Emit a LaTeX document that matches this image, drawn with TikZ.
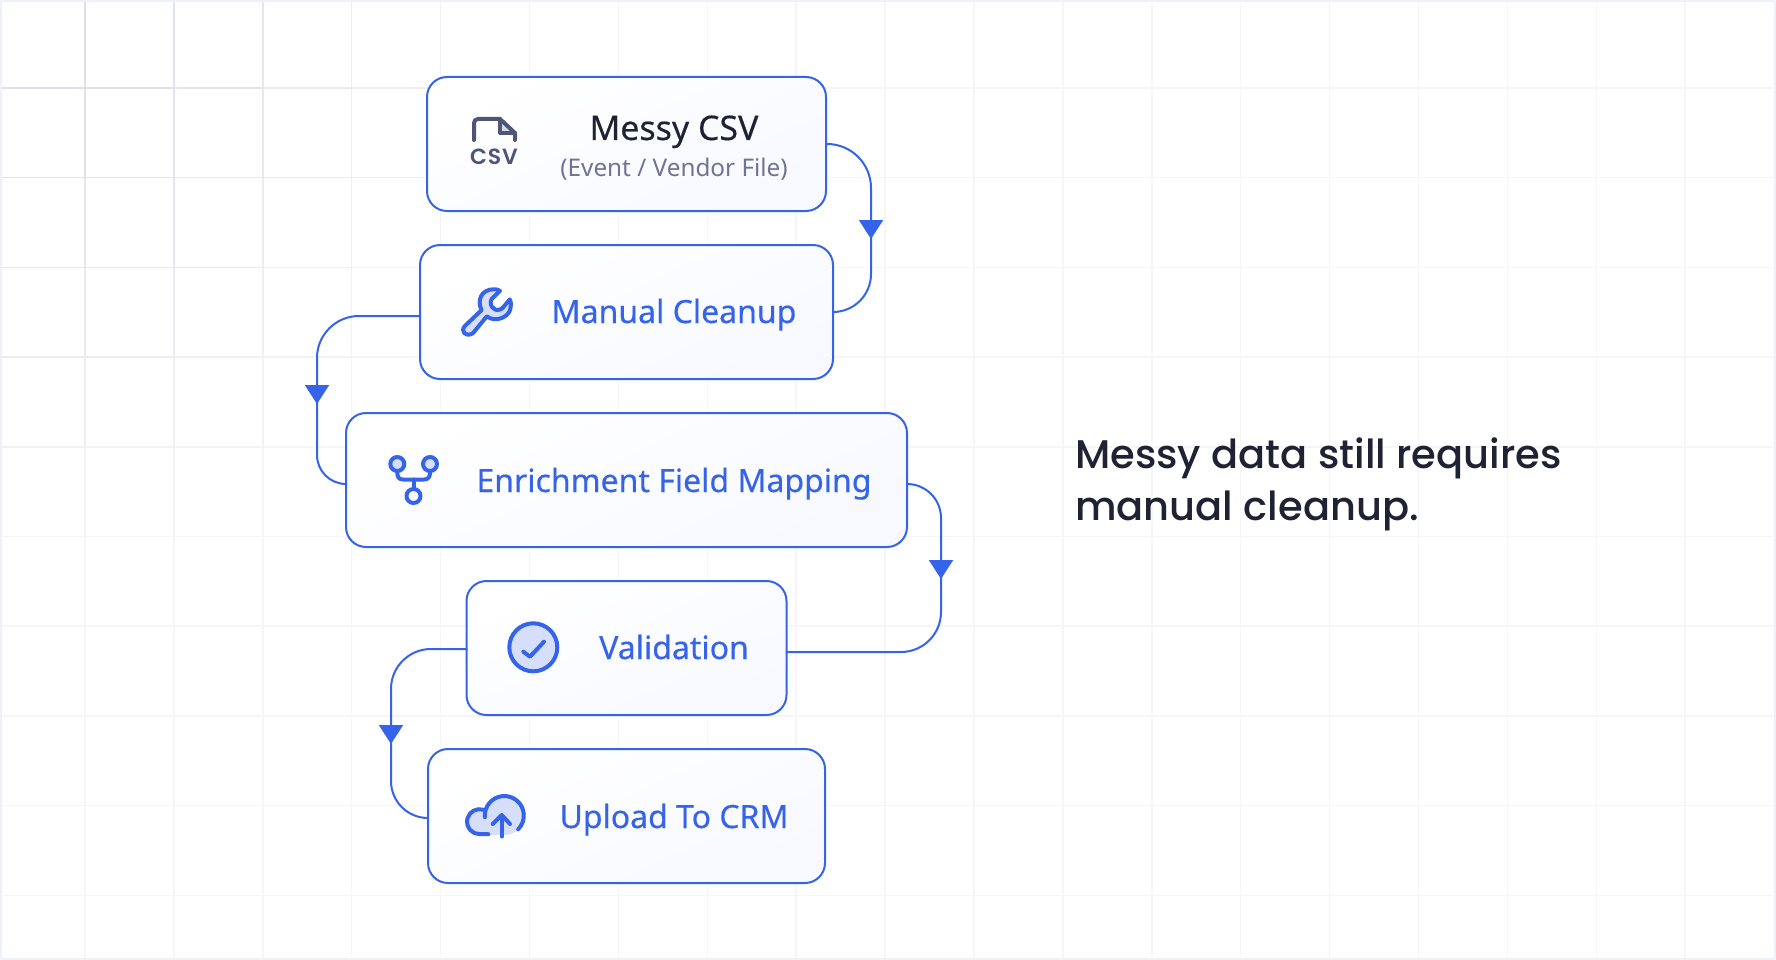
\documentclass[tikz,border=0pt]{standalone}
\usepackage{fontspec}
\usetikzlibrary{arrows.meta,calc}
\setmainfont[FakeBold=0.35]{Noto Sans}
\newfontfamily\notefont[UprightFont={* Medium}]{Poppins}
\newfontfamily\subfont{Noto Sans}
\newfontfamily\tagfont[UprightFont={* SemiBold},LetterSpace=4]{Poppins}
\definecolor{flowBlue}{HTML}{3563E9}
\definecolor{flowInk}{HTML}{1F2233}
\definecolor{flowSlate}{HTML}{4F5578}
\definecolor{flowMuted}{HTML}{6E7492}
\definecolor{flowTint}{HTML}{D5DEFA}
\definecolor{flowCard}{HTML}{F7F9FF}
\definecolor{flowGrid}{HTML}{CFCEDE}
\definecolor{flowEdge}{HTML}{EEF1F8}
\tikzset{
 board/.style={x=1pt,y=-1pt,line cap=round,line join=round},
 card/.style={rectangle,draw=flowBlue,line width=2pt,rounded corners=20pt,minimum height=134pt,outer sep=0pt,
   top color=white,bottom color=flowCard,shading angle=25},
 cardlabel/.style={font=\fontsize{32}{36}\selectfont,text=flowBlue,inner sep=0pt,anchor=base},
 link/.style={draw=flowBlue,line width=2pt},
 linktip/.style={link,-{Triangle[length=19pt,width=24pt]}},
 glyph/.style={draw=flowBlue,line width=4pt},
 glyphfill/.style={glyph,fill=flowTint}
}
\begin{document}
\begin{tikzpicture}[board]
 \useasboundingbox (0,0) rectangle (1776,960);
 \path[fill=white] (0,0) rectangle (1776,960);
 % grid, fading away from the top left corner
 \foreach \i in {0,...,18}{
  \foreach \j in {0,...,10}{
   \pgfmathsetmacro{\gx}{85+88.9*\i}
   \pgfmathsetmacro{\gy}{\j*89.7-1.7}
   \pgfmathsetmacro{\mix}{max(18,80-veclen(\gx,\gy+45)/9)}
   \draw[flowGrid!\mix!white,line width=1.5pt,line cap=butt] (\gx,\gy) -- (\gx,\gy+89.7);
  }
 }
 \foreach \j in {1,...,10}{
  \foreach \i in {0,...,19}{
   \pgfmathsetmacro{\gx}{\i*88.9-3.9}
   \pgfmathsetmacro{\gy}{\j*89.7-1.7}
   \pgfmathsetmacro{\mix}{max(18,80-veclen(\gx+44,\gy)/9)}
   \draw[flowGrid!\mix!white,line width=1.5pt,line cap=butt] (\gx,\gy) -- (\gx+88.9,\gy);
  }
 }
 \draw[flowEdge,line width=2pt] (1,1) rectangle (1775,959);

 \node[card,minimum width=399pt] (csv) at (626.5,144) {};
 \node[card,minimum width=413pt] (cleanup) at (626.5,312) {};
 \node[card,minimum width=561pt] (mapping) at (626.5,480) {};
 \node[card,minimum width=320pt] (validation) at (626.5,648) {};
 \node[card,minimum width=397pt] (upload) at (626.5,816) {};

 \coordinate (laneA) at (871,200);
 \coordinate (tipA) at (871,239);
 \coordinate (laneB) at (317,360);
 \coordinate (tipB) at (317,404);
 \coordinate (laneC) at (941,530);
 \coordinate (tipC) at (941,579);
 \coordinate (laneD) at (391,700);
 \coordinate (tipD) at (391,744);

 \draw[link] (csv.east) [rounded corners=44pt] -- (csv.east -| laneA) [rounded corners=38pt] -- (cleanup.east -| laneA) [sharp corners] -- (cleanup.east);
 \draw[linktip] (laneA) -- (tipA);
 \draw[link] ([yshift=-4pt]cleanup.west) [rounded corners=42pt] -- ($(cleanup.west -| laneB)+(0,4)$) [rounded corners=29pt] -- ($(mapping.west -| laneB)+(0,4)$) [sharp corners] -- ([yshift=-4pt]mapping.west);
 \draw[linktip] (laneB) -- (tipB);
 \draw[link] ([yshift=-4pt]mapping.east) [rounded corners=34pt] -- ($(mapping.east -| laneC)+(0,4)$) [rounded corners=40pt] -- ($(validation.east -| laneC)+(0,4)$) [sharp corners] -- ([yshift=-4pt]validation.east);
 \draw[linktip] (laneC) -- (tipC);
 \draw[link] ([yshift=-1pt]validation.west) [rounded corners=40pt] -- ($(validation.west -| laneD)+(0,1)$) [rounded corners=37pt] -- ($(upload.west -| laneD)+(0,2)$) [sharp corners] -- ([yshift=-2pt]upload.west);
 \draw[linktip] (laneD) -- (tipD);

 \node[cardlabel,font=\fontsize{33.9}{36}\selectfont,text=flowInk] (csvname) at (674,140) {Messy CSV};
 \node[cardlabel,font=\subfont\fontsize{24.3}{30}\selectfont,text=flowMuted] (csvnote) at (674,176) {(Event / Vendor File)};
 \node[cardlabel] (cleanupname) at (674,323) {Manual Cleanup};
 \node[cardlabel] (mappingname) at (674,492) {Enrichment Field Mapping};
 \node[cardlabel] (validationname) at (674,659) {Validation};
 \node[cardlabel] (uploadname) at (674,828) {Upload To CRM};

 \node[anchor=base west,inner sep=0pt,text=flowInk,font=\notefont\fontsize{40}{52}\selectfont,align=left] (message) at (1075,520)
  {Messy data still requires\\manual cleanup.};

 % file icon
 \fill[flowTint!70!gray!60!white] (501,120) -- (515,133) -- (501,133) -- cycle;
 \draw[flowSlate,line width=4pt] (474,140) -- (474,123) arc[start angle=180,end angle=270,radius=4] -- (500,119) -- (515,133) -- (515,140);
 \draw[flowSlate,line width=4pt] (500,119) -- (500,133) -- (515,133);
 \node[inner sep=0pt,text=flowSlate,font=\tagfont\fontsize{22}{26}\selectfont] (csvtag) at (494,156.5) {CSV};
 % wrench icon
 \begin{scope}[shift={(488,312)},scale=.92,shift={(-488,-312)}]
 \draw[glyphfill] (463.3,326.7) -- (481,310) .. controls (476,300) and (480,287) .. (495,287.3) .. controls (497,287) and (499,288) .. (501,289) -- (491.7,298.3) .. controls (490,302) and (491,306) .. (494,308) .. controls (497,311) and (501,310) .. (503.3,308.3) -- (511.7,298.3) .. controls (515,306) and (512,315) .. (503,318.5) .. controls (497,321) and (491,320) .. (486.7,316.7) -- (471.7,335) .. controls (464,340) and (457,333) .. (463.3,326.7) -- cycle;
 \end{scope}
 % branch icon
 \draw[glyph] (397.3,472) -- (397.3,473) .. controls (397.3,477) and (399,479.5) .. (403,479.5) -- (424,479.5) .. controls (428,479.5) and (430,477) .. (430,473) -- (430,472);
 \draw[glyph] (413.5,479.5) -- (413.5,488);
 \draw[glyphfill] (397.3,464) circle[radius=7];
 \draw[glyphfill] (430,464) circle[radius=7];
 \draw[glyph,fill=white] (413.5,496) circle[radius=7];
 % check icon
 \draw[glyphfill] (533.3,647.3) circle[radius=24];
 \draw[glyph] (523.3,651.7) -- (530,656.7) -- (544,641.7);
 % cloud icon
 \fill[flowTint] (504.3,815.5) circle[radius=19.5];
 \fill[flowTint] (479.5,821.7) circle[radius=12.5];
 \fill[flowTint] (479.5,821.7) rectangle (504,835);
 \draw[glyph] (484.9,817.2) arc[start angle=175,end angle=405,radius=19.5];
 \draw[glyph] (483.2,809.7) arc[start angle=287,end angle=90,radius=12.5] -- (488.3,834.2);
 \draw[glyph] (501.7,836.5) -- (501.7,816);
 \draw[glyph] (492.7,824) -- (501.7,815) -- (510,824);
\end{tikzpicture}
\end{document}
